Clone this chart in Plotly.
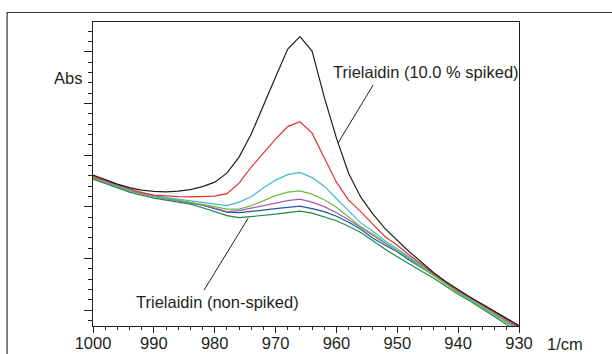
import plotly.graph_objects as go

wavenumber = [1000, 998, 996, 994, 992, 990, 988, 986, 984, 982, 980, 978, 976, 974, 972, 970,
              968, 966, 964, 962, 960, 958, 956, 954, 952, 950, 948, 946, 944, 942, 940, 938,
              936, 934, 932, 930]

spiked_10 = [0.3613, 0.3526, 0.3439, 0.3371, 0.3323, 0.3298, 0.3290, 0.3304, 0.3333, 0.3391,
             0.3478, 0.3652, 0.3962, 0.4407, 0.4968, 0.5510, 0.6052, 0.6290, 0.6013, 0.5123,
             0.4330, 0.3652, 0.3188, 0.2859, 0.2578, 0.2350, 0.2129, 0.1930, 0.1726, 0.1552,
             0.1397, 0.1252, 0.1117, 0.0981, 0.0846, 0.0701]
red = [0.3584, 0.3507, 0.3420, 0.3342, 0.3275, 0.3226, 0.3207, 0.3197, 0.3193, 0.3197,
       0.3207, 0.3255, 0.3459, 0.3768, 0.4049, 0.4310, 0.4552, 0.4645, 0.4426, 0.3962,
       0.3478, 0.3130, 0.2907, 0.2660, 0.2423, 0.2259, 0.2065, 0.1891, 0.1707, 0.1543,
       0.1378, 0.1243, 0.1097, 0.0952, 0.0807, 0.0672]
cyan = [0.3584, 0.3497, 0.3410, 0.3333, 0.3275, 0.3217, 0.3178, 0.3149, 0.3120, 0.3091,
        0.3052, 0.3023, 0.3091, 0.3197, 0.3371, 0.3517, 0.3623, 0.3666, 0.3565, 0.3400,
        0.3162, 0.2926, 0.2690, 0.2530, 0.2346, 0.2191, 0.2032, 0.1862, 0.1697, 0.1533,
        0.1368, 0.1223, 0.1078, 0.0933, 0.0788, 0.0652]
lightgreen = [0.3565, 0.3488, 0.3400, 0.3323, 0.3265, 0.3207, 0.3168, 0.3130, 0.3091, 0.3052,
              0.3004, 0.2955, 0.2955, 0.3023, 0.3120, 0.3217, 0.3284, 0.3310, 0.3246, 0.3139,
              0.2994, 0.2810, 0.2617, 0.2472, 0.2307, 0.2152, 0.1997, 0.1833, 0.1668, 0.1504,
              0.1339, 0.1194, 0.1049, 0.0904, 0.0749, 0.0614]
purple = [0.3555, 0.3478, 0.3391, 0.3313, 0.3255, 0.3197, 0.3159, 0.3120, 0.3081, 0.3033,
          0.2975, 0.2907, 0.2926, 0.2975, 0.3023, 0.3071, 0.3120, 0.3149, 0.3091, 0.3004,
          0.2888, 0.2752, 0.2597, 0.2452, 0.2297, 0.2152, 0.2007, 0.1842, 0.1678, 0.1513,
          0.1349, 0.1204, 0.1059, 0.0914, 0.0768, 0.0633]
blue = [0.3575, 0.3488, 0.3400, 0.3323, 0.3265, 0.3207, 0.3159, 0.3120, 0.3081, 0.3033,
        0.2965, 0.2897, 0.2888, 0.2907, 0.2936, 0.2965, 0.2994, 0.3013, 0.2965, 0.2907,
        0.2820, 0.2704, 0.2568, 0.2394, 0.2259, 0.2133, 0.1968, 0.1823, 0.1678, 0.1523,
        0.1378, 0.1243, 0.1107, 0.0972, 0.0826, 0.0704]
non_spiked = [0.3536, 0.3449, 0.3362, 0.3284, 0.3226, 0.3168, 0.3130, 0.3091, 0.3052, 0.2984,
              0.2907, 0.2830, 0.2791, 0.2810, 0.2830, 0.2859, 0.2888, 0.2917, 0.2878, 0.2810,
              0.2731, 0.2626, 0.2504, 0.2346, 0.2181, 0.2036, 0.1891, 0.1755, 0.1620, 0.1465,
              0.1310, 0.1175, 0.1030, 0.0875, 0.0720, 0.0575]

series = [
    ("Trielaidin (non-spiked)", non_spiked, "#1b8a4a"),
    ("blue", blue, "#2455a4"),
    ("purple", purple, "#a65aa8"),
    ("lightgreen", lightgreen, "#6cbb45"),
    ("cyan", cyan, "#40bccc"),
    ("red", red, "#e8302e"),
    ("Trielaidin (10.0 % spiked)", spiked_10, "#231f20"),
]

x_ticks = [1000, 990, 980, 970, 960, 950, 940, 930]
y_major = [0.1, 0.2, 0.3, 0.4, 0.5, 0.6]

FONT = "Liberation Sans, Arial, sans-serif"
TXT = "#231f20"

fig = go.Figure()
for name, ys, col in series:
    fig.add_trace(go.Scatter(x=wavenumber, y=ys, mode="lines", name=name,
                             line=dict(color=col, width=1.2), showlegend=False))

fig.update_layout(
    width=612, height=354,
    margin=dict(l=93, r=93, t=22, b=28, pad=0),
    paper_bgcolor="white", plot_bgcolor="white",
    font=dict(family=FONT, size=16.5, color=TXT),
    showlegend=False,
)
fig.update_xaxes(
    range=[1000, 930], tickvals=x_ticks, ticktext=[str(v) for v in x_ticks],
    ticks="outside", ticklen=6, tickwidth=1, tickcolor=TXT, automargin=False,
    ticklabelstandoff=-4,
    minor=dict(dtick=2, tick0=0, ticks="outside", ticklen=3, tickwidth=1, tickcolor=TXT, showgrid=False),
    showgrid=False, zeroline=False, showline=True, linecolor=TXT, linewidth=1.3, mirror=True,
    tickfont=dict(family=FONT, size=16.5, color=TXT),
)
fig.update_yaxes(
    range=[0.0697, 0.6574], tickvals=y_major, showticklabels=False, automargin=False,
    ticks="outside", ticklen=8, tickwidth=1, tickcolor=TXT,
    minor=dict(dtick=0.02, tick0=0, ticks="outside", ticklen=4, tickwidth=1, tickcolor=TXT, showgrid=False),
    showgrid=False, zeroline=False, showline=True, linecolor=TXT, linewidth=1.3, mirror=True,
)

# outer frame (cut by the image edges)
fig.add_shape(type="rect", xref="paper", yref="paper", x0=-0.2017, x1=1.35, y0=-0.3, y1=1.0313,
              line=dict(color="#333333", width=1.2), layer="below")

# leader lines
fig.add_shape(type="line", xref="x", yref="y", x0=953.97, y0=0.5355, x1=959.72, y1=0.4238,
              line=dict(color=TXT, width=1))
fig.add_shape(type="line", xref="x", yref="y", x0=974.5, y0=0.2781, x1=981.77, y1=0.1388,
              line=dict(color=TXT, width=1))

fig.add_annotation(text="Abs", xref="paper", yref="paper", x=-0.021, y=0.8156,
                   xanchor="right", yanchor="middle", showarrow=False,
                   font=dict(family=FONT, size=16.5, color=TXT))
fig.add_annotation(text="1/cm", xref="paper", yref="paper", x=1.0603, y=-0.0603,
                   xanchor="left", yanchor="middle", showarrow=False,
                   font=dict(family=FONT, size=16.5, color=TXT))
fig.add_annotation(text="Trielaidin (10.0 % spiked)", xref="paper", yref="paper", x=0.5583, y=0.8354,
                   xanchor="left", yanchor="middle", showarrow=False,
                   font=dict(family=FONT, size=16.5, color=TXT))
fig.add_annotation(text="Trielaidin (non-spiked)", xref="paper", yref="paper", x=0.0973, y=0.078,
                   xanchor="left", yanchor="middle", showarrow=False,
                   font=dict(family=FONT, size=16.5, color=TXT))

fig.write_html("out.html")
